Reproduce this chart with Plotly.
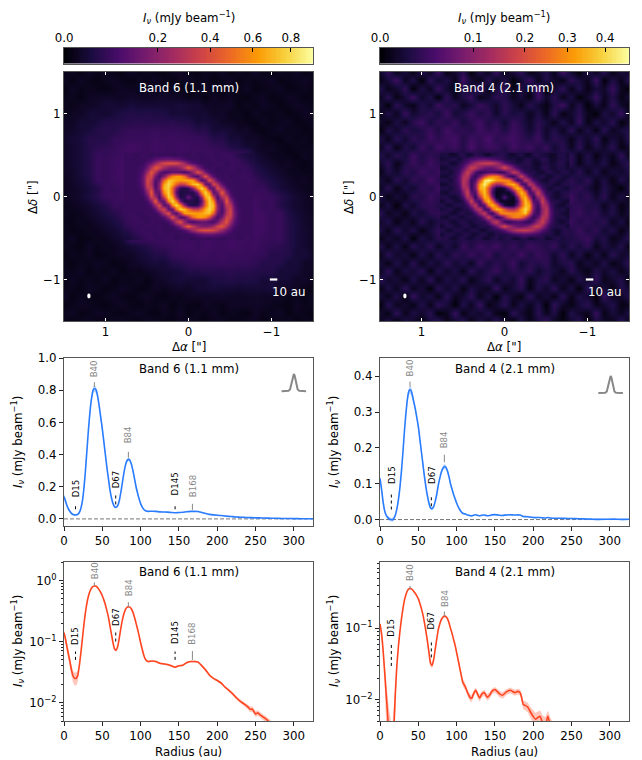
import numpy as np
import plotly.graph_objects as go

# radial profiles, mJy/beam
radius_b6 = [0, 2, 4, 6, 8, 10, 12, 14, 16, 18,
             20, 22, 24, 26, 28, 30, 32, 34, 36, 38,
             40, 42, 44, 46, 48, 50, 52, 54, 56, 58,
             60, 62, 64, 66, 68, 70, 72, 74, 76, 78,
             80, 82, 84, 86, 88, 90, 92, 94, 96, 98,
             100, 102, 104, 106, 108, 110,
             115, 120, 125, 130, 135, 140, 145, 150, 155, 160,
             165, 170, 175, 180, 185, 190, 195, 200, 205, 210,
             215, 220, 225, 230, 235, 240, 243, 246, 250, 253,
             256, 260, 265, 270, 275, 280, 290, 300, 310, 325]
flux_b6 = [.14, .11, .08, .06, .045, .033, .027, .025, .025, .028,
           .04, .065, .11, .19, .30, .43, .56, .67, .75, .80,
           .81, .80, .76, .70, .63, .56, .48, .40, .32, .25,
           .18, .13, .095, .075, .072, .082, .11, .16, .22, .28,
           .33, .36, .37, .365, .34, .30, .25, .20, .16, .125,
           .095, .075, .06, .052, .048, .047,
           .048, .047, .044, .043, .042, .040, .038, .040, .041, .045,
           .047, .047, .046, .040, .034, .028, .025, .023, .021, .018,
           .016, .014, .012, .0105, .0095, .0085, .0078, .0078, .0065, .0068,
           .0063, .0058, .0052, .0045, .004, .0035, .0025, .002, .0015, .001]
err_b6 = [.017, .013, .011, .01, .009, .007, .006, .006, .006, .006,
          .005, .005, .005, .006, .008, .011, .014, .017, .019, .02,
          .02, .02, .02, .018, .016, .014, .012, .01, .008, .007,
          .006, .005, .004, .004, .004, .004, .004, .005, .006, .008,
          .009, .01, .01, .01, .009, .008, .007, .006, .005, .004,
          .003, .003, .002, .002, .002, .002,
          .0015, .0015, .0015, .0015, .0015, .0015, .0015, .0015, .0015, .0015,
          .0015, .0015, .0015, .0014, .0012, .001, .001, .001, .001, .0009,
          .0008, .0008, .0008, .0008, .0008, .0008, .0008, .0008, .0007, .0007,
          .0006, .0006, .0006, .0005, .0005, .0005, .0004, .0004, .0004, .0004]

radius_b4 = [0, 2, 4, 6, 8, 10, 12, 14, 16, 18,
             20, 22, 24, 26, 28, 30, 32, 34, 36, 38,
             40, 42, 44, 46, 48, 50, 52, 54, 56, 58,
             60, 62, 64, 66, 68, 70, 72, 74, 76, 78,
             80, 82, 84, 86, 88, 90, 92, 94, 96, 98,
             100, 102, 104, 106, 108, 110,
             112, 115, 118, 120, 122, 125, 128, 130, 133, 136,
             140, 143, 146, 150, 153, 156, 160, 165, 170, 173,
             176, 180, 183, 185, 187, 190, 193, 196, 200, 203,
             206, 209, 212, 216, 219, 222, 226, 235, 245, 255,
             265, 275, 285, 295, 305, 315, 325]
flux_b4 = [.115, .085, .05, .025, .012, .006, .002, .0, -.001, .003,
           .012, .03, .055, .09, .135, .19, .25, .30, .34, .36,
           .362, .35, .33, .31, .285, .26, .225, .19, .155, .12,
           .09, .065, .045, .032, .03, .036, .05, .07, .095, .115,
           .132, .143, .148, .146, .136, .12, .10, .085, .07, .058,
           .046, .036, .028, .022, .0175, .016,
           .0145, .012, .0105, .0105, .012, .0135, .0115, .0105, .012, .0125,
           .0108, .0115, .013, .0138, .013, .012, .0115, .0128, .0135, .013,
           .0125, .013, .0125, .0105, .0085, .0082, .0078, .0068, .0058, .0053,
           .0056, .0058, .0048, .0045, .0058, .0045, .0035, .0035, .003, .0025,
           .002, .0012, .0005, .0008, .0012, .0005, .001]
err_b4 = [.008, .008, .007, .006, .005, .005, .005, .005, .005, .005,
          .005, .005, .005, .005, .005, .006, .006, .007, .008, .01,
          .012, .01, .008, .006, .005, .005, .005, .005, .004, .004,
          .004, .004, .003, .003, .003, .003, .003, .004, .004, .004,
          .005, .006, .007, .006, .005, .005, .004, .004, .003, .003,
          .003, .002, .002, .002, .002, .002,
          .0012, .0012, .0012, .0012, .0012, .0012, .0012, .0012, .0012, .0012,
          .0012, .0012, .0012, .0012, .0012, .0012, .0012, .0012, .0012, .0012,
          .0012, .0012, .0012, .0012, .0012, .0012, .0012, .0012, .0012, .0012,
          .0012, .0012, .0012, .0012, .0012, .0012, .0012, .0012, .0012, .0012,
          .0012, .0012, .0012, .0012, .0012, .0012, .0012]

# image cells, percent of the colour bar, top row first, left column first
# outer field in 0.1" steps, the ring region on top of it in 0.05" steps
field_b6 = [
    [4, 5, 3, 6, 4, 5, 4, 3, 6, 4, 5, 4, 3, 5, 6, 4, 3, 5, 4, 6, 3, 5, 4, 6, 4, 3, 5, 4, 6, 3, 5],
    [5, 3, 6, 4, 3, 5, 6, 4, 3, 5, 4, 6, 4, 3, 5, 6, 4, 5, 3, 4, 6, 3, 5, 4, 5, 6, 3, 4, 5, 6, 4],
    [3, 6, 4, 5, 4, 3, 5, 6, 5, 5, 6, 5, 5, 5, 4, 3, 5, 6, 4, 3, 5, 4, 6, 3, 4, 5, 6, 3, 4, 5, 3],
    [4, 5, 3, 6, 6, 7, 6, 6, 7, 6, 6, 6, 7, 6, 6, 4, 5, 3, 6, 4, 5, 4, 3, 5, 6, 3, 4, 6, 5, 3, 4],
    [5, 4, 6, 6, 7, 9, 9, 8, 10, 9, 9, 9, 9, 9, 10, 9, 9, 6, 6, 6, 7, 3, 5, 4, 6, 5, 3, 4, 6, 5, 4],
    [3, 6, 6, 9, 9, 8, 10, 12, 13, 12, 13, 12, 12, 9, 10, 9, 8, 9, 6, 7, 4, 5, 3, 6, 4, 4, 5, 3, 4, 6, 5],
    [6, 6, 9, 9, 10, 13, 13, 13, 14, 15, 14, 14, 14, 15, 13, 13, 9, 10, 9, 6, 6, 5, 4, 3, 6, 4, 5, 6, 3, 4, 5],
    [6, 7, 9, 10, 13, 14, 13, 16, 17, 17, 17, 18, 17, 17, 17, 16, 13, 14, 9, 10, 9, 6, 7, 4, 3, 5, 6, 4, 5, 3, 4],
    [7, 9, 10, 14, 13, 13, 17, 17, 18, 18, 18, 19, 18, 19, 18, 18, 18, 17, 13, 14, 9, 10, 6, 7, 5, 4, 3, 6, 4, 5, 3],
    [6, 8, 10, 13, 15, 16, 17, 19, 20, 19, 18, 20, 19, 18, 20, 19, 18, 18, 17, 16, 13, 11, 9, 7, 5, 6, 4, 3, 5, 4, 5],
    [6, 8, 10, 13, 18, 17, 18, 19] + [19] * 15 + [9, 7, 5, 5, 4, 3, 6, 4],
    [6, 8, 10, 13, 18, 17, 19, 20] + [19] * 15 + [11, 9, 7, 5, 6, 4, 3, 5],
    [6, 7, 10, 13, 18, 17, 19, 20] + [19] * 15 + [14, 11, 9, 7, 5, 5, 4, 4],
    [5, 7, 9, 12, 18, 17, 19, 20] + [19] * 15 + [17, 14, 11, 9, 7, 5, 6, 4],
    [5, 6, 8, 10, 13, 18, 17, 19] + [19] * 15 + [17, 18, 13, 10, 8, 6, 5, 4],
    [5, 6, 8, 11, 14, 18, 18, 19] + [19] * 15 + [19, 18, 18, 14, 11, 8, 6, 5],
    [4, 5, 6, 8, 10, 13, 18, 17] + [19] * 15 + [20, 17, 18, 13, 10, 8, 6, 5],
    [5, 4, 5, 7, 9, 11, 14, 17] + [19] * 15 + [20, 19, 17, 18, 12, 9, 7, 5],
    [4, 4, 5, 5, 7, 9, 11, 14] + [19] * 15 + [19, 20, 17, 18, 13, 10, 7, 6],
    [5, 3, 4, 5, 5, 7, 9, 11] + [19] * 15 + [20, 19, 17, 18, 13, 10, 8, 6],
    [4, 6, 3, 4, 5, 5, 7, 9] + [19] * 15 + [19, 18, 17, 18, 13, 10, 8, 6],
    [5, 4, 3, 6, 4, 5, 5, 7, 9, 11, 13, 16, 17, 18, 19, 20, 18, 20, 19, 18, 20, 19, 18, 19, 17, 16, 15, 13, 10, 8, 6],
    [3, 5, 4, 6, 3, 4, 5, 6, 6, 9, 10, 13, 13, 17, 18, 18, 19, 19, 18, 19, 18, 18, 18, 17, 17, 13, 14, 13, 9, 10, 6],
    [4, 3, 5, 4, 6, 5, 3, 4, 6, 7, 9, 10, 9, 13, 14, 16, 17, 17, 17, 18, 17, 17, 17, 16, 13, 14, 13, 9, 10, 6, 7],
    [5, 4, 6, 3, 5, 4, 6, 3, 5, 4, 6, 7, 9, 9, 10, 13, 13, 14, 14, 14, 15, 14, 14, 13, 13, 13, 9, 10, 9, 6, 6],
    [3, 6, 4, 5, 4, 6, 3, 5, 4, 6, 3, 6, 7, 9, 10, 9, 9, 9, 12, 12, 13, 12, 12, 12, 9, 10, 9, 9, 6, 7, 4],
    [4, 5, 3, 6, 5, 3, 4, 6, 5, 3, 4, 6, 5, 6, 7, 6, 9, 9, 10, 9, 9, 8, 9, 9, 9, 10, 6, 7, 6, 4, 3],
    [6, 3, 5, 4, 3, 5, 6, 4, 3, 5, 6, 4, 3, 5, 4, 6, 6, 6, 6, 7, 6, 6, 6, 7, 6, 6, 6, 4, 5, 3, 6],
    [3, 4, 6, 5, 4, 3, 5, 6, 4, 3, 5, 4, 6, 3, 5, 4, 3, 6, 5, 4, 6, 6, 6, 6, 6, 5, 4, 3, 6, 4, 5],
    [5, 6, 3, 4, 6, 5, 4, 3, 5, 6, 4, 3, 5, 4, 6, 3, 5, 4, 6, 3, 5, 4, 3, 6, 4, 5, 6, 3, 5, 4, 3],
    [4, 3, 5, 6, 3, 4, 5, 6, 4, 3, 6, 5, 4, 3, 5, 6, 4, 3, 5, 6, 3, 4, 5, 6, 3, 5, 4, 6, 3, 5, 4],
]
field_b4 = [
    [7, 16, 4, 10, 3, 13, 5, 19, 3, 8, 15, 1, 12, 5, 18, 4, 10, 16, 3, 7, 13, 4, 20, 8, 1, 12, 5, 15, 3, 10, 7],
    [3, 10, 19, 5, 13, 1, 16, 7, 12, 4, 20, 8, 3, 15, 5, 12, 1, 8, 18, 4, 13, 7, 3, 16, 10, 5, 19, 1, 12, 4, 15],
    [13, 4, 8, 16, 1, 12, 5, 18, 8, 3, 13, 7, 19, 4, 10, 15, 3, 12, 5, 20, 1, 8, 16, 4, 13, 3, 10, 7, 18, 5, 1],
    [5, 15, 3, 10, 19, 7, 13, 1, 16, 5, 12, 18, 4, 8, 15, 13, 5, 10, 3, 19, 7, 15, 4, 12, 1, 8, 18, 5, 13, 3, 10],
    [10, 1, 16, 7, 4, 13, 8, 19, 12, 15, 5, 10, 18, 13, 7, 16, 10, 4, 15, 8, 3, 12, 19, 5, 13, 1, 10, 4, 16, 7, 3],
    [4, 13, 5, 18, 8, 12, 15, 10, 19, 8, 13, 18, 12, 16, 7, 15, 10, 13, 5, 12, 4, 16, 3, 8, 15, 5, 1, 12, 7, 18, 4],
    [8, 3, 12, 5, 15, 19, 10, 16, 13, 18, 10, 15, 20, 12, 16, 8, 18, 13, 7, 15, 10, 4, 13, 5, 18, 3, 12, 7, 15, 1, 8],
    [1, 13, 7, 16, 10, 13, 18, 12, 20, 15, 16, 13, 19, 15, 18, 12, 19, 15, 8, 16, 7, 13, 5, 16, 4, 12, 3, 15, 5, 10, 13],
    [12, 4, 15, 8, 16, 12, 19, 15, 18, 20, 13, 19, 16, 22, 15, 18, 20, 16, 13, 19, 8, 15, 12, 4, 13, 7, 16, 3, 10, 5, 15],
    [5, 16, 3, 13, 8, 18, 12, 20, 16, 19, 13, 22, 15, 19, 18, 13, 20, 16, 19, 13, 18, 8, 15, 5, 16, 4, 12, 7, 15, 3, 8],
    [13, 7, 15, 10, 19, 12, 16, 13] + [12] * 15 + [15, 4, 13, 3, 10, 5, 16, 4],
    [8, 15, 4, 12, 18, 13, 19, 15] + [12] * 15 + [15, 4, 12, 7, 13, 3, 10, 15],
    [3, 13, 7, 16, 12, 19, 15, 18] + [12] * 15 + [8, 15, 5, 13, 4, 10, 7, 12],
    [10, 4, 15, 8, 16, 13, 20, 15] + [12] * 15 + [15, 10, 16, 5, 12, 3, 13, 7],
    [5, 15, 3, 12, 8, 16, 13, 19] + [12] * 15 + [13, 16, 10, 4, 13, 7, 1, 12],
    [13, 3, 10, 5, 15, 12, 18, 15] + [12] * 15 + [19, 12, 16, 8, 15, 4, 12, 5],
    [4, 12, 1, 13, 7, 15, 16, 13] + [12] * 15 + [15, 16, 12, 13, 5, 12, 3, 8],
    [15, 5, 10, 3, 13, 8, 15, 16] + [12] * 15 + [15, 18, 13, 16, 8, 13, 4, 10],
    [7, 13, 3, 10, 4, 15, 7, 12] + [12] * 15 + [18, 13, 16, 12, 15, 5, 12, 3],
    [12, 4, 15, 7, 13, 3, 10, 16] + [12] * 15 + [13, 18, 12, 16, 8, 13, 3, 10],
    [3, 10, 5, 13, 1, 12, 7, 15] + [12] * 15 + [12, 15, 18, 10, 13, 4, 8, 15],
    [13, 4, 12, 3, 15, 8, 16, 5, 13, 7, 18, 12, 19, 15, 20, 13, 18, 12, 19, 16, 13, 18, 8, 15, 10, 16, 4, 12, 7, 13, 3],
    [4, 15, 7, 10, 3, 13, 5, 15, 8, 16, 12, 18, 13, 19, 10, 16, 13, 20, 12, 18, 15, 8, 16, 5, 13, 3, 12, 4, 15, 7, 10],
    [10, 3, 13, 5, 15, 4, 12, 7, 16, 8, 13, 5, 18, 10, 15, 12, 19, 8, 15, 13, 16, 7, 12, 15, 4, 10, 5, 13, 3, 8, 16],
    [5, 16, 4, 12, 8, 15, 3, 13, 7, 12, 4, 16, 8, 13, 18, 10, 15, 12, 16, 7, 13, 10, 5, 15, 8, 3, 13, 7, 12, 4, 10],
    [15, 7, 10, 3, 13, 5, 16, 4, 12, 8, 15, 3, 10, 16, 5, 13, 8, 18, 4, 12, 15, 5, 10, 3, 13, 7, 16, 4, 8, 13, 1],
    [3, 12, 5, 16, 4, 10, 1, 15, 7, 13, 3, 12, 8, 5, 18, 4, 10, 15, 3, 13, 7, 16, 4, 12, 1, 15, 5, 10, 3, 13, 8],
    [10, 4, 13, 1, 18, 7, 12, 3, 15, 5, 8, 16, 4, 12, 1, 13, 7, 3, 16, 5, 10, 3, 15, 4, 12, 8, 1, 18, 5, 7, 13],
    [1, 15, 5, 8, 3, 13, 4, 16, 10, 1, 13, 5, 18, 3, 8, 15, 4, 12, 5, 13, 1, 16, 7, 3, 10, 15, 4, 8, 13, 3, 5],
    [8, 3, 16, 4, 12, 7, 15, 1, 5, 18, 3, 10, 7, 13, 4, 1, 16, 8, 3, 15, 5, 12, 1, 13, 7, 4, 18, 3, 10, 5, 12],
    [4, 12, 1, 13, 7, 3, 10, 16, 4, 8, 15, 3, 12, 5, 16, 7, 1, 13, 4, 10, 18, 5, 3, 8, 15, 1, 12, 7, 4, 16, 3],
]
rings_b6 = [
    [18, 19, 17, 18, 19, 18, 17, 19, 18, 18, 19, 17, 18, 19, 18, 17, 19, 18, 17, 18, 19, 18, 17, 18, 19, 18, 17, 14, 13, 11, 10],
    [18, 18, 17, 19, 18, 19, 21, 25, 27, 29, 30, 29, 27, 25, 21, 19, 18, 19, 17, 18, 18, 19, 17, 18, 18, 19, 18, 17, 15, 13, 11],
    [18, 18, 18, 18, 19, 24, 30, 40, 50, 57, 60, 60, 58, 52, 42, 31, 24, 20, 19, 18, 17, 18, 19, 18, 17, 18, 19, 18, 17, 15, 13],
    [18, 18, 18, 19, 22, 31, 47, 62, 56, 43, 36, 33, 34, 40, 51, 65, 52, 35, 25, 19, 18, 19, 17, 18, 18, 19, 18, 17, 18, 17, 15],
    [18, 18, 18, 20, 26, 43, 62, 47, 29, 21, 23, 27, 27, 25, 20, 24, 39, 61, 51, 31, 21, 19, 17, 18, 18, 19, 18, 17, 18, 18, 17],
    [18, 18, 18, 20, 30, 53, 56, 31, 21, 35, 58, 73, 78, 77, 67, 45, 26, 22, 41, 62, 39, 24, 19, 18, 19, 17, 18, 18, 19, 18, 17],
    [18, 18, 18, 21, 31, 57, 48, 23, 30, 64, 86, 84, 80, 78, 80, 80, 78, 48, 23, 31, 61, 45, 26, 19, 18, 19, 17, 18, 18, 19, 18],
    [18, 18, 18, 20, 29, 56, 46, 21, 38, 80, 91, 81, 64, 53, 55, 69, 85, 90, 70, 28, 25, 57, 47, 26, 19, 18, 18, 18, 18, 18, 18],
    [18, 18, 18, 19, 26, 50, 53, 23, 38, 84, 89, 66, 35, 15, 13, 17, 39, 72, 91, 75, 30, 25, 60, 43, 24, 19, 18, 18, 18, 18, 18],
    [18, 18, 18, 18, 22, 39, 63, 29, 28, 75, 90, 66, 25, 11, 13, 13, 12, 30, 69, 91, 73, 26, 32, 64, 36, 21, 18, 18, 18, 18, 18],
    [18, 18, 18, 18, 19, 28, 55, 45, 20, 54, 89, 80, 39, 12, 15, 30, 15, 12, 39, 80, 89, 54, 20, 45, 55, 28, 19, 18, 18, 18, 18],
    [18, 18, 18, 18, 18, 21, 36, 64, 32, 26, 73, 91, 69, 30, 12, 13, 13, 11, 25, 66, 90, 75, 28, 29, 63, 39, 22, 18, 18, 18, 18],
    [18, 18, 18, 18, 18, 19, 24, 43, 60, 25, 30, 75, 91, 72, 39, 17, 13, 15, 35, 66, 89, 84, 38, 23, 53, 50, 26, 19, 18, 18, 18],
    [18, 18, 18, 18, 18, 18, 19, 26, 47, 57, 25, 28, 70, 90, 85, 69, 55, 53, 64, 81, 91, 80, 38, 21, 46, 56, 29, 20, 18, 18, 18],
    [18, 19, 18, 17, 18, 19, 18, 19, 26, 45, 61, 31, 23, 48, 78, 80, 80, 78, 80, 84, 86, 64, 30, 23, 48, 57, 31, 21, 18, 18, 18],
    [17, 18, 19, 18, 17, 18, 19, 18, 19, 24, 39, 62, 41, 22, 26, 45, 67, 77, 78, 73, 58, 35, 21, 31, 56, 53, 30, 20, 18, 18, 18],
    [17, 18, 18, 19, 18, 17, 19, 18, 18, 18, 21, 31, 51, 61, 39, 24, 20, 25, 27, 27, 23, 21, 29, 47, 62, 43, 26, 20, 18, 18, 18],
    [15, 17, 18, 17, 18, 19, 18, 18, 19, 17, 18, 19, 25, 35, 52, 65, 51, 40, 34, 33, 36, 43, 56, 62, 47, 31, 22, 19, 18, 18, 18],
    [13, 15, 17, 18, 19, 17, 18, 18, 19, 18, 17, 18, 18, 20, 24, 31, 42, 52, 58, 60, 60, 57, 50, 40, 30, 24, 19, 18, 18, 18, 18],
    [11, 13, 15, 17, 18, 19, 18, 17, 19, 18, 18, 19, 17, 18, 18, 19, 21, 25, 27, 29, 30, 29, 27, 25, 21, 19, 18, 18, 18, 18, 18],
    [10, 11, 13, 14, 17, 18, 19, 18, 17, 18, 19, 18, 17, 18, 19, 18, 17, 18, 19, 18, 17, 19, 18, 17, 18, 18, 19, 17, 18, 19, 18],
]
rings_b4 = [
    [11, 12, 8, 8, 13, 14, 9, 10, 15, 14, 9, 8, 12, 13, 15, 14, 9, 8, 12, 13, 8, 7, 13, 14, 11, 10, 7, 7, 12, 13, 9],
    [9, 10, 13, 14, 9, 14, 18, 22, 24, 27, 28, 26, 23, 21, 18, 14, 11, 12, 8, 8, 13, 14, 9, 10, 15, 14, 8, 7, 12, 13, 10],
    [13, 14, 9, 8, 14, 19, 25, 35, 44, 50, 53, 54, 52, 45, 37, 26, 19, 15, 11, 12, 15, 14, 8, 7, 12, 13, 9, 10, 14, 13, 8],
    [8, 9, 13, 14, 17, 26, 41, 54, 49, 38, 31, 28, 29, 35, 45, 58, 45, 30, 20, 14, 12, 13, 9, 8, 14, 15, 10, 9, 13, 12, 8],
    [12, 13, 8, 15, 21, 38, 54, 41, 24, 15, 17, 22, 22, 20, 15, 19, 34, 53, 45, 26, 16, 13, 14, 9, 8, 13, 14, 10, 9, 14, 13],
    [9, 8, 13, 15, 25, 46, 49, 26, 15, 30, 52, 67, 73, 72, 61, 40, 21, 16, 36, 54, 34, 19, 13, 12, 14, 9, 8, 13, 14, 10, 9],
    [13, 14, 9, 16, 26, 50, 42, 17, 25, 58, 92, 99, 90, 78, 76, 74, 72, 42, 17, 26, 53, 40, 21, 14, 9, 8, 13, 14, 10, 9, 13],
    [8, 9, 13, 15, 24, 49, 40, 16, 33, 78, 97, 80, 56, 44, 46, 62, 78, 84, 64, 23, 20, 50, 41, 21, 14, 12, 13, 9, 8, 13, 14],
    [13, 14, 9, 14, 21, 44, 46, 17, 33, 82, 85, 60, 30, 8, 6, 10, 34, 66, 85, 69, 25, 20, 53, 38, 19, 13, 8, 13, 14, 10, 9],
    [9, 8, 13, 14, 16, 34, 55, 24, 23, 69, 86, 60, 20, 4, 6, 7, 5, 25, 63, 85, 67, 21, 27, 56, 31, 15, 14, 9, 8, 13, 14],
    [13, 14, 9, 8, 13, 23, 48, 40, 14, 47, 83, 74, 34, 5, 8, 25, 8, 5, 34, 74, 83, 47, 14, 40, 48, 23, 13, 9, 8, 13, 14],
    [8, 13, 14, 10, 9, 15, 31, 56, 27, 21, 67, 85, 63, 25, 5, 6, 6, 4, 20, 60, 86, 69, 23, 24, 55, 34, 16, 14, 13, 9, 8],
    [14, 9, 8, 13, 14, 13, 19, 38, 52, 20, 25, 69, 85, 66, 34, 10, 6, 8, 30, 60, 85, 80, 33, 17, 46, 44, 21, 13, 9, 8, 13],
    [10, 13, 14, 9, 8, 13, 13, 21, 41, 50, 20, 23, 64, 84, 78, 62, 48, 46, 58, 78, 92, 76, 33, 15, 40, 49, 24, 14, 12, 13, 8],
    [14, 13, 9, 8, 13, 14, 10, 13, 21, 40, 53, 26, 17, 42, 72, 74, 74, 72, 74, 78, 88, 58, 25, 17, 42, 50, 26, 15, 13, 9, 8],
    [9, 8, 13, 14, 10, 9, 13, 14, 13, 19, 34, 54, 36, 16, 21, 40, 61, 71, 72, 67, 51, 30, 15, 26, 49, 46, 25, 14, 12, 13, 9],
    [13, 14, 9, 8, 13, 14, 10, 9, 13, 14, 15, 26, 45, 53, 34, 19, 14, 20, 22, 22, 17, 15, 24, 41, 54, 38, 21, 14, 9, 8, 13],
    [8, 13, 14, 10, 9, 13, 14, 9, 8, 13, 14, 13, 20, 30, 45, 58, 44, 35, 29, 28, 31, 38, 49, 54, 41, 26, 16, 13, 13, 14, 9],
    [14, 9, 8, 13, 14, 10, 9, 13, 14, 9, 8, 13, 14, 15, 19, 26, 37, 45, 50, 53, 53, 50, 44, 35, 25, 19, 13, 9, 8, 13, 14],
    [9, 13, 14, 10, 9, 13, 14, 9, 8, 13, 14, 9, 8, 14, 13, 13, 15, 20, 22, 24, 25, 24, 22, 20, 15, 13, 14, 9, 8, 13, 14],
    [13, 14, 9, 8, 13, 14, 10, 9, 13, 14, 8, 9, 13, 14, 10, 13, 14, 9, 8, 13, 14, 9, 10, 13, 14, 8, 9, 13, 14, 10, 13],
]

cbar_ticks_b6 = [0.0, 0.2, 0.4, 0.6, 0.8]
cbar_ticks_b4 = [0.0, 0.1, 0.2, 0.3, 0.4]
CBAR_MAX_B6 = 0.926
CBAR_MAX_B4 = 0.469
CBAR_GAMMA = 0.636

# beam sketch drawn in the linear panels: radius, height as fraction
beam_r = [284, 290, 293, 295, 297, 299, 300, 301, 303, 305, 307, 310, 316]
beam_h = [0, 0, .02, .1, .45, .92, 1, .92, .45, .1, .02, 0, 0]

# feature labels: name, radius, line from, line to, text base
marks_lin_b6 = [("B40", 39.6, .82, .85, .86), ("B84", 84, .38, .417, .45), ("B168", 167.6, .056, .094, .119),
                ("D15", 15, .06, .087, .119), ("D67", 67.5, .09, .15, .17), ("D145", 145, .06, .087, .125)]
marks_lin_b4 = [("B40", 39.2, .371, .385, .39), ("B84", 84, .16, .181, .19),
                ("D15", 14.8, .028, .074, .092), ("D67", 67, .037, .07, .092)]
marks_log_b6 = [("B40", 39.6, .82, .93, .93), ("B84", 84, .365, .44, .49), ("B168", 167.6, .05, .07, .08),
                ("D15", 15, .05, .0685, .08), ("D67", 67.5, .1, .144, .159), ("D145", 145, .05, .0685, .08)]
marks_log_b4 = [("B40", 39.2, .35, .39, .41), ("B84", 84, .147, .172, .18),
                ("D15", 14.8, .0296, .059, .07), ("D67", 67, .039, .066, .088)]

FONT = "DejaVu Sans"
FRAME = "#555555"
BLUE = "#2a7cff"
RED = "#ff4520"
W, H = 642, 760
IV_LABEL = "<i>I<sub>ν</sub></i> (mJy beam<sup>−1</sup>)"


def dom_x(a, b):
    return [a / W, b / W]


def dom_y(top, bottom):
    return [1 - bottom / H, 1 - top / H]


fig = go.Figure()
layout = {}
notes = []


def page_text(text, px, py, angle=0):
    # axis titles, placed in page pixels
    notes.append(dict(text=text, x=px / W, y=1 - py / H, xref="paper", yref="paper", showarrow=False,
                      xanchor="center", yanchor="middle", textangle=angle, font=dict(size=11.8, color="black")))


def set_axes(n, px_x, px_y, xopts, yopts):
    base = dict(showline=True, linecolor=FRAME, linewidth=1.3, mirror=True, showgrid=False, zeroline=False,
                ticks="outside", ticklen=4, tickwidth=1, tickcolor="#222222", tickfont=dict(size=11.8, color="black"))
    suffix = "" if n == 1 else str(n)
    layout["xaxis" + suffix] = {**base, "domain": dom_x(*px_x), "anchor": f"y{suffix}", **xopts}
    layout["yaxis" + suffix] = {**base, "domain": dom_y(*px_y), "anchor": f"x{suffix}", **yopts}


def add_cbar(n, px_x, ticks, vmax):
    positions = [(v / vmax) ** CBAR_GAMMA for v in ticks]
    fig.add_trace(go.Heatmap(z=[list(range(0, 101))], x0=0, dx=0.01, y0=0, colorscale="Inferno", zmin=0, zmax=100,
                             showscale=False, hoverinfo="skip", xaxis=f"x{n}", yaxis=f"y{n}"))
    set_axes(n, px_x, (48, 63.5),
             dict(range=[0, 1], side="top", tickvals=positions, ticktext=[f"{v:.1f}" for v in ticks],
                  ticks="inside", tickcolor="black"),
             dict(range=[-0.45, 0.45], showticklabels=False, ticks=""))
    page_text(IV_LABEL, (px_x[0] + px_x[1]) / 2, 17)


def add_image(n, px_x, field, rings, label):
    for z, start_x, start_y, step in ((field, 1.5, 1.5, 0.1), (rings, 0.75, 0.5, 0.05)):
        fig.add_trace(go.Heatmap(z=z, x0=start_x, dx=-step, y0=start_y, dy=-step, colorscale="Inferno", zmin=0, zmax=100,
                                 zsmooth="best", showscale=False, hoverinfo="skip", xaxis=f"x{n}", yaxis=f"y{n}"))
    white = dict(ticks="inside", tickcolor="white", ticklen=3, mirror="allticks", tickvals=[-1, 0, 1])
    set_axes(n, px_x, (72, 321), dict(range=[1.5, -1.5], **white), dict(range=[-1.5, 1.5], **white))
    page_text('Δ<i>α</i> ["]', (px_x[0] + px_x[1]) / 2, 347)
    page_text('Δ<i>δ</i> ["]', px_x[0] - 31, 197, -90)
    notes.append(dict(text=label, x=0, y=1.31, xref=f"x{n}", yref=f"y{n}", showarrow=False,
                      font=dict(size=11.8, color="white")))
    notes.append(dict(text="10 au", x=-1.2, y=-1.15, xref=f"x{n}", yref=f"y{n}", showarrow=False,
                      font=dict(size=11.8, color="white")))
    fig.add_trace(go.Scatter(x=[-0.98, -1.07], y=[-1, -1], mode="lines", line=dict(color="white", width=2.2),
                             hoverinfo="skip", showlegend=False, xaxis=f"x{n}", yaxis=f"y{n}"))
    layout.setdefault("shapes", []).append(
        dict(type="circle", xref=f"x{n}", yref=f"y{n}", x0=1.18, x1=1.22, y0=-1.23, y1=-1.17,
             fillcolor="white", line=dict(width=0)))


def add_marks(n, marks, log=False):
    for name, r, y0, y1, base in marks:
        is_gap = name.startswith("D")
        fig.add_trace(go.Scatter(x=[r, r], y=[y0, y1], mode="lines", hoverinfo="skip", showlegend=False,
                                 line=dict(color="black" if is_gap else "#888888", width=1, dash="dot" if is_gap else "solid"),
                                 xaxis=f"x{n}", yaxis=f"y{n}"))
        notes.append(dict(text=name, x=r, y=np.log10(base) if log else base, xref=f"x{n}", yref=f"y{n}",
                          showarrow=False, textangle=-90, yanchor="bottom", yshift=1,
                          font=dict(size=8.6, color="black" if is_gap else "#888888")))


def add_profile(n, r, flux, err, color, fill, log=False):
    r = np.array(r)
    flux = np.array(flux)
    err = np.array(err)
    low = flux - err
    if log:
        low = np.maximum(low, 1e-4)
    fig.add_trace(go.Scatter(x=np.r_[r, r[::-1]], y=np.r_[flux + err, low[::-1]], fill="toself", fillcolor=fill,
                             line=dict(width=0), mode="lines", hoverinfo="skip", showlegend=False,
                             xaxis=f"x{n}", yaxis=f"y{n}"))
    fig.add_trace(go.Scatter(x=r, y=flux, mode="lines", line=dict(color=color, width=1.6, shape="spline", smoothing=0.5),
                             showlegend=False, xaxis=f"x{n}", yaxis=f"y{n}"))


def add_linear(n, px_x, r, flux, err, yrange, ytickvals, label, marks, beam_base, beam_top, center_shift):
    fig.add_trace(go.Scatter(x=[0, 325], y=[0, 0], mode="lines", line=dict(color="#777777", width=1, dash="4px,2px"),
                             hoverinfo="skip", showlegend=False, xaxis=f"x{n}", yaxis=f"y{n}"))
    add_profile(n, r, flux, err, BLUE, "rgba(42,124,255,0.3)")
    add_marks(n, marks)
    fig.add_trace(go.Scatter(x=[b + center_shift for b in beam_r],
                             y=[beam_base + h * (beam_top - beam_base) for h in beam_h],
                             mode="lines", line=dict(color="#888888", width=2), hoverinfo="skip", showlegend=False,
                             xaxis=f"x{n}", yaxis=f"y{n}"))
    set_axes(n, px_x, (358, 526),
             dict(range=[0, 325], tickvals=[0, 50, 100, 150, 200, 250, 300]),
             dict(range=yrange, tickvals=ytickvals, tickformat=".1f"))
    page_text(IV_LABEL, px_x[0] - 47, 442, -90)
    notes.append(dict(text=label, x=0.5, y=1, xref=f"x{n} domain", yref=f"y{n} domain", yanchor="top", yshift=-2,
                      showarrow=False, font=dict(size=11.8)))


def add_log(n, px_x, r, flux, err, yrange, major, minor, label, marks):
    add_profile(n, r, flux, err, RED, "rgba(255,69,32,0.3)", log=True)
    add_marks(n, marks, log=True)
    power = {1: "10<sup>0</sup>", .1: "10<sup>−1</sup>", .01: "10<sup>−2</sup>"}
    set_axes(n, px_x, (562, 721),
             dict(range=[0, 325], tickvals=[0, 50, 100, 150, 200, 250, 300]),
             dict(type="log", range=yrange, tickvals=major, ticktext=[power[m] for m in major],
                  minor=dict(ticks="outside", ticklen=2, tickvals=minor, tickcolor="#222222")))
    page_text("Radius (au)", (px_x[0] + px_x[1]) / 2, 752)
    page_text(IV_LABEL, px_x[0] - 47, 641, -90)
    notes.append(dict(text=label, x=0.5, y=1, xref=f"x{n} domain", yref=f"y{n} domain", yanchor="top", yshift=-1,
                      showarrow=False, font=dict(size=11.8)))


LEFT = (64, 313)
RIGHT = (380, 629)
BAND6 = "Band 6 (1.1 mm)"
BAND4 = "Band 4 (2.1 mm)"

minor_b6 = [.005, .006, .007, .008, .009, .02, .03, .04, .05, .06, .07, .08, .09,
            .2, .3, .4, .5, .6, .7, .8, .9, 2]
minor_b4 = [.005, .006, .007, .008, .009, .02, .03, .04, .05, .06, .07, .08, .09,
            .2, .3, .4, .5, .6, .7, .8]

add_cbar(1, LEFT, cbar_ticks_b6, CBAR_MAX_B6)
add_cbar(2, RIGHT, cbar_ticks_b4, CBAR_MAX_B4)
add_image(3, LEFT, field_b6, rings_b6, BAND6)
add_image(4, RIGHT, field_b4, rings_b4, BAND4)
add_linear(5, LEFT, radius_b6, flux_b6, err_b6, [-0.044, 1.0], [0, .2, .4, .6, .8, 1], BAND6, marks_lin_b6, .794, .90, 0)
add_linear(6, RIGHT, radius_b4, flux_b4, err_b4, [-0.018, 0.451], [0, .1, .2, .3, .4], BAND4, marks_lin_b4, .353, .401, 1)
add_log(7, LEFT, radius_b6, flux_b6, err_b6, [np.log10(.005), np.log10(2)], [.01, .1, 1], minor_b6, BAND6, marks_log_b6)
add_log(8, RIGHT, radius_b4, flux_b4, err_b4, [np.log10(.005), np.log10(.85)], [.01, .1], minor_b4, BAND4, marks_log_b4)

fig.update_layout(**layout)
fig.update_layout(width=W, height=H, margin=dict(l=0, r=0, t=0, b=0, autoexpand=False), paper_bgcolor="white",
                  plot_bgcolor="white", font=dict(family=FONT, size=11.8, color="black"), showlegend=False,
                  annotations=notes)
fig.write_html("out.html", config={"displayModeBar": False}, post_script="document.body.style.margin='0';")
